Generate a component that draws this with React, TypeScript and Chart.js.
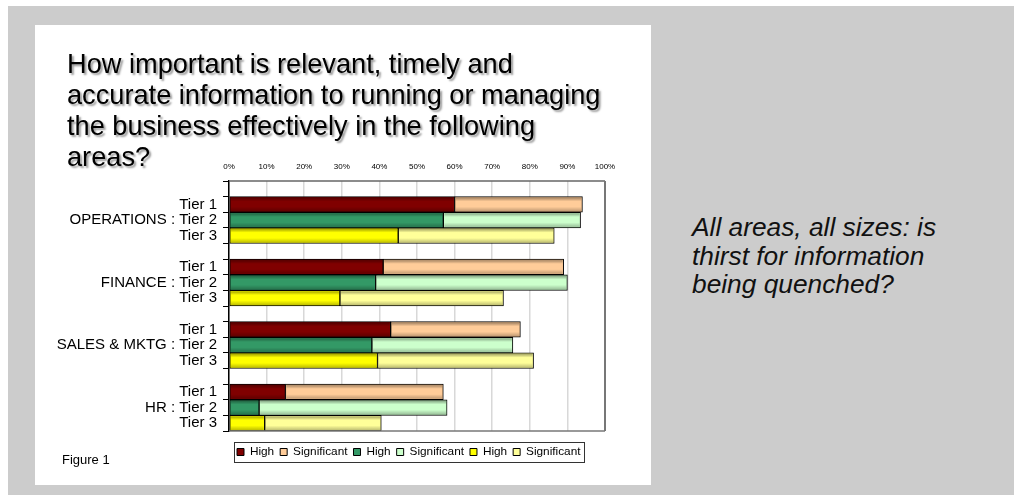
import React, { useEffect, useRef } from 'react';
import { Chart, registerables } from 'chart.js';

Chart.register(...registerables);

// ---- data ----
const areas = ['OPERATIONS', 'FINANCE', 'SALES & MKTG', 'HR'];
const tiers = ['Tier 1', 'Tier 2', 'Tier 3'];
const tier1High = [60, 41, 43, 15];
const tier1Significant = [34, 48, 34.5, 42];
const tier2High = [57, 39, 38, 8];
const tier2Significant = [36.5, 51, 37.5, 50];
const tier3High = [45, 29.5, 39.5, 9.5];
const tier3Significant = [41.5, 43.5, 41.5, 31];
const xTickValues = [0, 10, 20, 30, 40, 50, 60, 70, 80, 90, 100];

const FONT = 'Liberation Sans, Arial, Helvetica, sans-serif';

// category rows: a spacer row then the three tiers for each area
const categories: string[] = [];
areas.forEach((a) => {
  categories.push('');
  tiers.forEach((t, i) => categories.push(i === 1 ? `${a} : ${t}` : t));
});

function spread(values: number[], tierIndex: number) {
  const out: (number | null)[] = categories.map(() => null);
  values.forEach((v, g) => {
    out[g * 4 + 1 + tierIndex] = v;
  });
  return out;
}

const series = [
  { label: 'High', values: tier1High, tier: 0, color: '#800000' },
  { label: 'Significant', values: tier1Significant, tier: 0, color: '#FFCC99' },
  { label: 'High', values: tier2High, tier: 1, color: '#339966' },
  { label: 'Significant', values: tier2Significant, tier: 1, color: '#CCFFCC' },
  { label: 'High', values: tier3High, tier: 2, color: '#FFFF00' },
  { label: 'Significant', values: tier3Significant, tier: 2, color: '#FFFF99' },
];

// ---- layout constants (page coordinates) ----
const CANVAS_LEFT = 35;
const CANVAS_TOP = 150;
const CANVAS_W = 616;
const CANVAS_H = 330;
const LEGEND_FONT = 11.8;
const LEGEND_PAD = 6;
const LEGEND_H = 40;
const LEGEND_FIRST_X = 237;
const LEGEND_CY = 452;

const shadePlugin = {
  id: 'shade',
  afterDatasetsDraw(chart: any) {
    const ctx = chart.ctx;
    ctx.save();
    chart.data.datasets.forEach((ds: any, i: number) => {
      const meta = chart.getDatasetMeta(i);
      meta.data.forEach((el: any, j: number) => {
        if (ds.data[j] == null) return;
        const p = el.getProps(['x', 'y', 'base', 'height'], true);
        const left = Math.min(p.x, p.base);
        const right = Math.max(p.x, p.base);
        const top = p.y - p.height / 2;
        const bottom = p.y + p.height / 2;
        const g = ctx.createLinearGradient(0, top, 0, bottom);
        g.addColorStop(0, 'rgba(0,0,0,0.45)');
        g.addColorStop(0.3, 'rgba(0,0,0,0)');
        g.addColorStop(0.65, 'rgba(0,0,0,0)');
        g.addColorStop(1, 'rgba(0,0,0,0.3)');
        ctx.fillStyle = g;
        ctx.fillRect(left + 1, top + 1, right - left - 2, bottom - top - 2);
      });
    });
    // plot frame: top, right, bottom
    const a = chart.chartArea;
    ctx.strokeStyle = '#666';
    ctx.lineWidth = 1.5;
    ctx.beginPath();
    ctx.moveTo(a.left, a.top);
    ctx.lineTo(a.right, a.top);
    ctx.stroke();
    ctx.strokeStyle = '#777';
    ctx.lineWidth = 2;
    ctx.beginPath();
    ctx.moveTo(a.right, a.top);
    ctx.lineTo(a.right, a.bottom);
    ctx.stroke();
    ctx.lineWidth = 1.5;
    ctx.beginPath();
    ctx.moveTo(a.left, a.bottom);
    ctx.lineTo(a.right, a.bottom);
    ctx.stroke();
    ctx.restore();
  },
};

const legendPlugin = {
  id: 'legendPlace',
  beforeLayout(chart: any) {
    const lg = chart.legend;
    if (lg && !lg.__patched) {
      const f = lg.fit;
      lg.fit = function () {
        f.call(this);
        this.height = LEGEND_H;
      };
      lg.__patched = true;
    }
  },
  afterLayout(chart: any) {
    const lg = chart.legend;
    if (!lg) return;
    lg.left = LEGEND_FIRST_X - CANVAS_LEFT - LEGEND_PAD;
    lg.width = 440;
    lg.right = lg.left + lg.width;
    lg.top = LEGEND_CY - CANVAS_TOP - LEGEND_PAD - LEGEND_FONT / 2;
    lg.height = LEGEND_H;
    lg.bottom = lg.top + LEGEND_H;
  },
  afterDraw(chart: any) {
    const lg = chart.legend;
    const hb = lg && lg.legendHitBoxes;
    if (!hb || !hb.length) return;
    const first = hb[0];
    const last = hb[hb.length - 1];
    const x0 = Math.round(first.left - 3);
    const x1 = Math.round(last.left + last.width + 4);
    const cy = first.top + first.height / 2;
    const ctx = chart.ctx;
    ctx.save();
    ctx.strokeStyle = '#333';
    ctx.lineWidth = 1;
    ctx.strokeRect(x0 + 0.5, Math.round(cy - 10) + 0.5, x1 - x0, 20);
    ctx.restore();
  },
};

export default function App() {
  const ref = useRef<HTMLCanvasElement>(null);

  useEffect(() => {
    if (!ref.current) return;
    Chart.defaults.font.family = FONT;
    Chart.defaults.color = '#000';
    const chart = new Chart(ref.current, {
      type: 'bar',
      data: {
        labels: categories,
        datasets: series.map((s) => ({
          label: s.label,
          data: spread(s.values, s.tier),
          backgroundColor: s.color,
          borderColor: '#000',
          borderWidth: 1,
          borderSkipped: false,
          categoryPercentage: 1,
          barPercentage: 1,
        })),
      },
      options: {
        indexAxis: 'y',
        responsive: false,
        animation: false,
        layout: { padding: { left: 0, top: 0, right: CANVAS_LEFT + CANVAS_W - 605, bottom: 9 } },
        scales: {
          x: {
            position: 'top',
            stacked: true,
            min: 0,
            max: 100,
            afterBuildTicks(scale: any) {
              scale.ticks = xTickValues.map((v) => ({ value: v }));
            },
            afterFit(scale: any) {
              scale.height = 181 - CANVAS_TOP;
            },
            ticks: {
              callback: (v: any) => `${v}%`,
              font: { size: 8, family: FONT },
              color: '#000',
              padding: 9.5,
              maxRotation: 0,
              autoSkip: false,
            },
            grid: { color: '#d8d8d8', lineWidth: 1.5, drawTicks: false },
            border: { display: false },
          },
          y: {
            stacked: true,
            afterFit(scale: any) {
              scale.width = 229 - CANVAS_LEFT;
            },
            ticks: {
              autoSkip: false,
              font: { size: 15, family: FONT },
              color: '#000',
              padding: 6,
            },
            grid: { drawOnChartArea: false, drawTicks: true, tickLength: 6, color: '#000', lineWidth: 1 },
            border: { display: true, color: '#000', width: 1.5 },
          },
        },
        plugins: {
          legend: {
            position: 'bottom',
            align: 'start',
            labels: {
              boxWidth: 7,
              boxHeight: 7,
              padding: LEGEND_PAD,
              color: '#000',
              font: { size: LEGEND_FONT, family: FONT },
            },
          },
          tooltip: { enabled: false },
          title: { display: false },
        },
      } as any,
      plugins: [shadePlugin, legendPlugin],
    });
    return () => chart.destroy();
  }, []);

  return (
    <div
      style={{
        position: 'fixed',
        left: 8,
        top: 6,
        width: 1006,
        height: 489,
        background: '#cccccc',
        overflow: 'hidden',
        fontFamily: FONT,
      }}
    >
      <div style={{ position: 'absolute', left: 27, top: 19, width: 616, height: 460, background: '#ffffff' }} />
      <canvas
        ref={ref}
        width={CANVAS_W}
        height={CANVAS_H}
        style={{ position: 'absolute', left: CANVAS_LEFT - 8, top: CANVAS_TOP - 6, width: CANVAS_W, height: CANVAS_H }}
      />
      <div
        style={{
          position: 'absolute',
          left: 59,
          top: 42,
          fontSize: 27.2,
          lineHeight: '31px',
          color: '#000',
          whiteSpace: 'nowrap',
          textShadow: '2px 2px 2px #9a9a9a',
          zIndex: 2,
        }}
      >
        How important is relevant, timely and
        <br />
        accurate information to running or managing
        <br />
        the business effectively in the following
        <br />
        areas?
      </div>
      <div
        style={{
          position: 'absolute',
          left: 54,
          top: 446,
          fontSize: 13,
          lineHeight: '15px',
          color: '#000',
          whiteSpace: 'nowrap',
        }}
      >
        Figure 1
      </div>
      <div
        style={{
          position: 'absolute',
          left: 684,
          top: 207,
          fontSize: 26.3,
          lineHeight: '28.5px',
          fontStyle: 'italic',
          color: '#111',
          whiteSpace: 'nowrap',
        }}
      >
        All areas, all sizes: is
        <br />
        thirst for information
        <br />
        being quenched?
      </div>
    </div>
  );
}
